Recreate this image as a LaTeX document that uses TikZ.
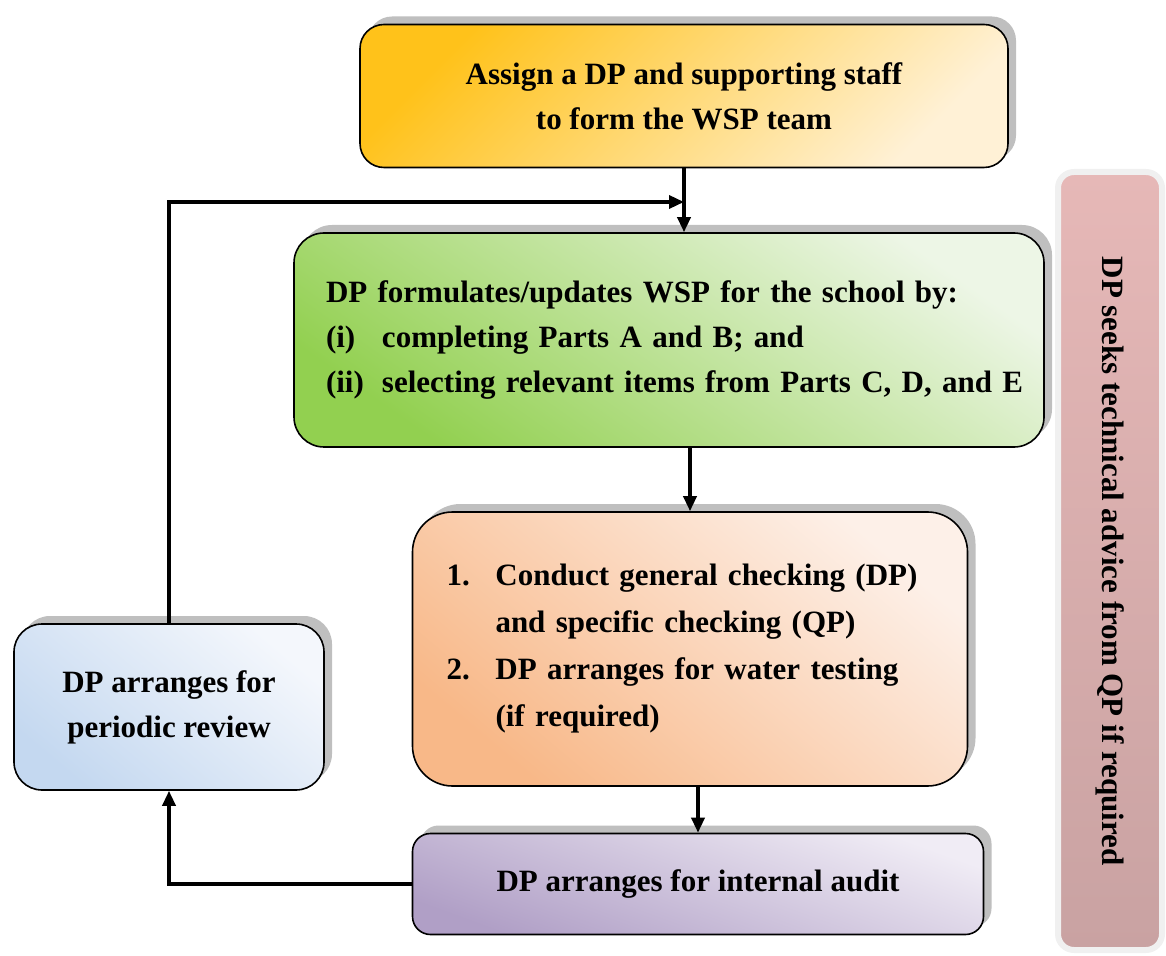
\documentclass[tikz,border=0pt]{standalone}
\usepackage{fontspec}
\setmainfont{Liberation Serif}
\usetikzlibrary{arrows.meta,shadows}

\definecolor{orangeA}{HTML}{FFC21A}
\definecolor{orangeB}{HTML}{FFF1D6}
\definecolor{greenA}{HTML}{92D050}
\definecolor{greenB}{HTML}{EDF6E6}
\definecolor{peachA}{HTML}{F8B888}
\definecolor{peachB}{HTML}{FDF0E8}
\definecolor{blueA}{HTML}{C4D8F0}
\definecolor{blueB}{HTML}{F4F7FC}
\definecolor{purpleA}{HTML}{B09FC6}
\definecolor{purpleB}{HTML}{F0ECF5}
\definecolor{pinkA}{HTML}{E6B8B7}
\definecolor{pinkB}{HTML}{C9A2A2}

\tikzset{
	boxfont/.style={font=\fontsize{15.5}{22.5}\selectfont\bfseries},
	stepbox/.style={draw=black, line width=0.8pt, boxfont,
		drop shadow={shadow xshift=4pt, shadow yshift=4pt, fill=black!25, opacity=1}},
	arr/.style={line width=1.7pt, -{Triangle[length=7.5pt,width=6.5pt]}}
}

\begin{document}
\begin{tikzpicture}[x=0.5pt, y=-0.5pt]
		\useasboundingbox (0,0) rectangle (1166,956);

		% team
		\node[stepbox, rounded corners=12pt, minimum width=324pt, minimum height=71.5pt, align=center,
			top color=orangeA, bottom color=orangeB, shading angle=45] (assign) at (684, 96)
			{Assign a DP and supporting staff\\to form the WSP team};

		% WSP
		\node[stepbox, rounded corners=15pt, minimum width=375pt, minimum height=107pt, inner xsep=10pt,
			text width=355pt, align=left,
			top color=greenB, bottom color=greenA, shading angle=-35] (formulate) at (669, 340)
			{\hspace*{6pt}DP formulates/updates WSP for the school by:\\
			\hspace*{6pt}\makebox[28pt][l]{(i)}completing Parts A and B; and\\
			\hspace*{6pt}\makebox[28pt][l]{(ii)}selecting relevant items from Parts C, D, and E};

		% checking
		\node[stepbox, rounded corners=20pt, minimum width=277.5pt, minimum height=137pt, inner xsep=17pt,
			text width=243.5pt, align=left, font=\fontsize{15.5}{23.5}\selectfont\bfseries,
			top color=peachB, bottom color=peachA, shading angle=-40] (checks) at (690, 649)
			{\makebox[24.5pt][l]{1.}Conduct general checking (DP)\\
			\hspace*{24.5pt}and specific checking (QP)\\
			\makebox[24.5pt][l]{2.}DP arranges for water testing\\
			\hspace*{24.5pt}(if required)};

		% audit
		\node[stepbox, rounded corners=9pt, minimum width=285.5pt, minimum height=50.5pt, align=center,
			top color=purpleB, bottom color=purpleA, shading angle=-20] (audit) at (698, 884)
			{DP arranges for internal audit};

		% review
		\node[stepbox, rounded corners=14pt, minimum width=155pt, minimum height=83pt, align=center,
			top color=blueB, bottom color=blueA, shading angle=-40] (review) at (169, 707)
			{DP arranges for\\periodic review};

		% advice
		\node[draw=black!6, line width=3pt, rounded corners=8pt, minimum width=52pt, minimum height=389pt,
			top color=pinkA, bottom color=pinkB] (advice) at (1110, 561)
			{};
		\node[rotate=-90, boxfont] (advicetext) at (advice.center)
			{DP seeks technical advice from QP if required};

		\coordinate (join) at (684, 202);

		\draw[arr] (assign.south) -- (assign.south |- formulate.north);
		\draw[arr] (review.north) |- (join);
		\draw[arr] (checks.north |- formulate.south) -- (checks.north);
		\draw[arr] (audit.north |- checks.south) -- (audit.north);
		\draw[arr] (audit.west) -| (review.south);

	\end{tikzpicture}
\end{document}
